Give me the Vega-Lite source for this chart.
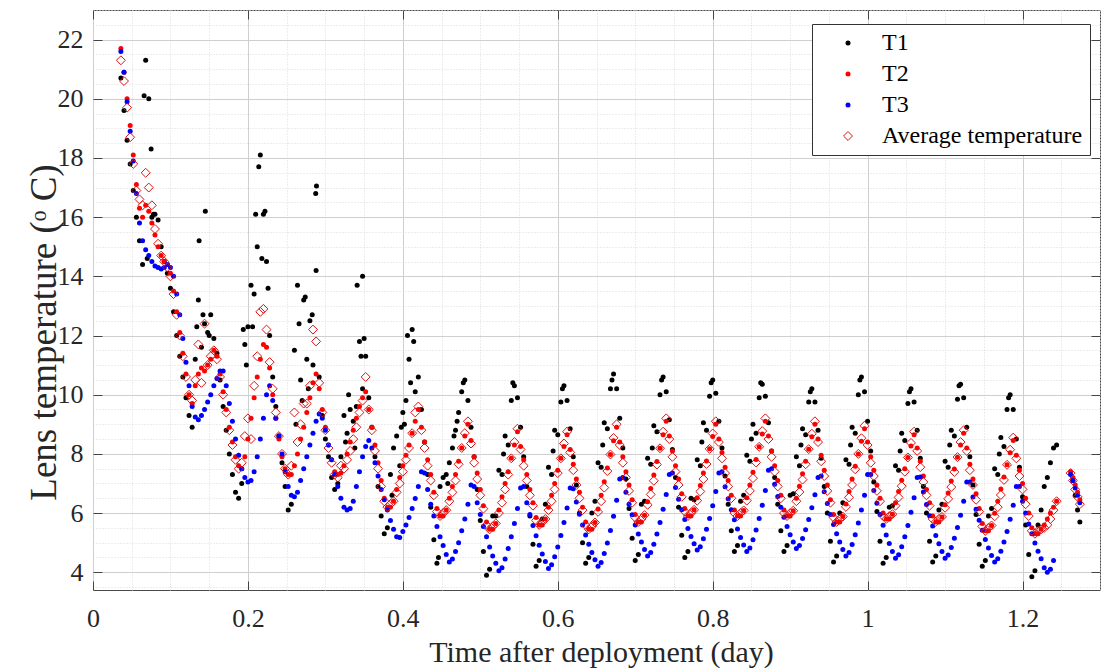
{
"$schema":"https://vega.github.io/schema/vega-lite/v6.json",
"width":1007,"height":580,
"autosize":{"type":"none"},
"padding":{"left":93,"top":10,"right":4,"bottom":78},
"background":"#ffffff",
"config":{
"view":{"stroke":"#4a4a4a","strokeWidth":1},
"font":"Liberation Serif",
"axis":{"labelFont":"Liberation Serif","titleFont":"Liberation Serif","labelColor":"#262626","titleColor":"#262626","titleFontWeight":"normal","labelFontSize":26,"titleFontSize":30},
"legend":{"labelFont":"Liberation Serif","labelFontSize":24,"labelColor":"#000000","padding":7,"strokeColor":"#333333","fillColor":"#ffffff","symbolOffset":17,"labelOffset":22,"rowPadding":7,"labelLimit":400,"symbolStrokeWidth":1}
},
"data":{"values":[
{"t":0.036,"T1":20.7,"T2":21.7,"T3":21.6,"Av":21.3},
{"t":0.04,"T1":19.6,"T2":20.9,"T3":20.9,"Av":20.6},
{"t":0.044,"T1":18.6,"T2":20.0,"T3":19.9,"Av":19.7},
{"t":0.048,"T1":17.8,"T2":19.1,"T3":18.9,"Av":18.7},
{"t":0.052,"T1":16.9,"T2":18.1,"T3":17.9,"Av":17.8},
{"t":0.056,"T1":16.0,"T2":17.1,"T3":16.8,"Av":16.9},
{"t":0.06,"T1":15.2,"T2":16.3,"T3":15.8,"Av":16.6},
{"t":0.064,"T1":14.4,"T2":16.0,"T3":15.2,"Av":16.4},
{"t":0.068,"T1":21.3,"T2":16.4,"T3":14.9,"Av":17.5},
{"t":0.072,"T1":20.0,"T2":16.2,"T3":14.7,"Av":17.0},
{"t":0.076,"T1":16.0,"T2":15.8,"T3":14.5,"Av":16.4},
{"t":0.08,"T1":16.1,"T2":15.4,"T3":14.35,"Av":15.6},
{"t":0.084,"T1":15.9,"T2":15.0,"T3":14.3,"Av":15.1},
{"t":0.088,"T1":15.0,"T2":14.7,"T3":14.25,"Av":14.7},
{"t":0.092,"T1":14.5,"T2":14.5,"T3":14.3,"Av":14.5},
{"t":0.096,"T1":14.1,"T2":14.4,"T3":14.4,"Av":14.3},
{"t":0.1,"T1":13.6,"T2":14.1,"T3":14.3,"Av":14.0},
{"t":0.104,"T1":12.8,"T2":13.5,"T3":14.0,"Av":13.4},
{"t":0.108,"T1":12.0,"T2":12.8,"T3":13.4,"Av":12.7},
{"t":0.112,"T1":11.3,"T2":12.1,"T3":12.7,"Av":12.0},
{"t":0.116,"T1":10.6,"T2":11.4,"T3":11.9,"Av":11.3},
{"t":0.12,"T1":9.9,"T2":10.7,"T3":11.1,"Av":10.6},
{"t":0.124,"T1":9.3,"T2":10.0,"T3":10.3,"Av":10.0},
{"t":0.128,"T1":8.9,"T2":9.7,"T3":9.6,"Av":9.8},
{"t":0.132,"T1":11.2,"T2":10.3,"T3":9.25,"Av":10.5},
{"t":0.136,"T1":13.2,"T2":10.7,"T3":9.15,"Av":11.7},
{"t":0.14,"T1":11.6,"T2":10.9,"T3":9.3,"Av":10.4},
{"t":0.144,"T1":12.4,"T2":10.8,"T3":9.5,"Av":12.4},
{"t":0.148,"T1":12.1,"T2":11.0,"T3":9.75,"Av":11.0},
{"t":0.152,"T1":12.7,"T2":11.2,"T3":10.0,"Av":11.3},
{"t":0.156,"T1":11.9,"T2":11.5,"T3":10.3,"Av":11.5},
{"t":0.16,"T1":11.4,"T2":11.3,"T3":10.55,"Av":11.2},
{"t":0.164,"T1":10.5,"T2":10.7,"T3":10.8,"Av":10.6},
{"t":0.168,"T1":9.6,"T2":10.1,"T3":10.8,"Av":10.0},
{"t":0.172,"T1":8.8,"T2":9.5,"T3":10.3,"Av":9.4},
{"t":0.176,"T1":8.0,"T2":8.9,"T3":9.7,"Av":8.8},
{"t":0.18,"T1":7.3,"T2":8.4,"T3":9.1,"Av":8.3},
{"t":0.184,"T1":6.7,"T2":7.9,"T3":8.5,"Av":7.8},
{"t":0.188,"T1":6.5,"T2":7.6,"T3":7.95,"Av":7.5},
{"t":0.192,"T1":7.0,"T2":7.5,"T3":7.5,"Av":7.7},
{"t":0.196,"T1":11.7,"T2":7.9,"T3":7.2,"Av":8.6},
{"t":0.2,"T1":12.3,"T2":8.5,"T3":7.05,"Av":9.2},
{"t":0.204,"T1":13.7,"T2":9.2,"T3":7.1,"Av":8.5},
{"t":0.208,"T1":13.4,"T2":9.9,"T3":7.4,"Av":10.3},
{"t":0.212,"T1":15.0,"T2":10.6,"T3":7.9,"Av":11.3},
{"t":0.216,"T1":18.1,"T2":11.2,"T3":8.5,"Av":12.8},
{"t":0.22,"T1":16.1,"T2":11.7,"T3":9.2,"Av":12.9},
{"t":0.224,"T1":14.5,"T2":11.6,"T3":10.0,"Av":12.2},
{"t":0.228,"T1":12.0,"T2":10.9,"T3":10.3,"Av":11.1},
{"t":0.232,"T1":10.6,"T2":10.0,"T3":9.8,"Av":10.2},
{"t":0.236,"T1":9.6,"T2":9.2,"T3":9.2,"Av":9.4},
{"t":0.24,"T1":8.6,"T2":8.5,"T3":8.6,"Av":8.6},
{"t":0.244,"T1":7.7,"T2":7.9,"T3":8.0,"Av":8.0},
{"t":0.248,"T1":6.9,"T2":7.5,"T3":7.4,"Av":7.5},
{"t":0.252,"T1":6.1,"T2":7.3,"T3":6.9,"Av":7.3},
{"t":0.256,"T1":6.3,"T2":7.3,"T3":6.6,"Av":7.6},
{"t":0.26,"T1":11.5,"T2":7.6,"T3":6.55,"Av":9.4},
{"t":0.264,"T1":13.7,"T2":8.0,"T3":6.7,"Av":8.4},
{"t":0.268,"T1":10.5,"T2":8.5,"T3":7.1,"Av":9.0},
{"t":0.272,"T1":13.2,"T2":8.9,"T3":7.5,"Av":9.7},
{"t":0.276,"T1":11.2,"T2":9.4,"T3":7.9,"Av":9.7},
{"t":0.28,"T1":12.5,"T2":9.9,"T3":8.3,"Av":10.3},
{"t":0.284,"T1":11.0,"T2":10.4,"T3":8.7,"Av":12.2},
{"t":0.288,"T1":14.2,"T2":10.7,"T3":9.1,"Av":11.8},
{"t":0.292,"T1":10.6,"T2":10.2,"T3":9.35,"Av":10.4},
{"t":0.296,"T1":9.3,"T2":9.5,"T3":9.2,"Av":9.4},
{"t":0.3,"T1":8.5,"T2":8.9,"T3":8.8,"Av":8.8},
{"t":0.304,"T1":7.9,"T2":8.3,"T3":8.3,"Av":8.2},
{"t":0.308,"T1":7.2,"T2":7.8,"T3":7.8,"Av":7.7},
{"t":0.312,"T1":6.8,"T2":7.4,"T3":7.3,"Av":7.3},
{"t":0.316,"T1":7.0,"T2":7.3,"T3":6.9,"Av":7.2},
{"t":0.32,"T1":7.9,"T2":7.35,"T3":6.5,"Av":7.6},
{"t":0.324,"T1":9.3,"T2":7.6,"T3":6.2,"Av":7.5},
{"t":0.328,"T1":8.7,"T2":8.0,"T3":6.1,"Av":7.8},
{"t":0.332,"T1":9.5,"T2":8.4,"T3":6.15,"Av":8.1},
{"t":0.336,"T1":9.1,"T2":8.8,"T3":6.4,"Av":8.5},
{"t":0.34,"T1":9.6,"T2":9.2,"T3":6.9,"Av":8.9},
{"t":0.344,"T1":11.8,"T2":9.6,"T3":7.4,"Av":9.4},
{"t":0.348,"T1":10.2,"T2":9.9,"T3":7.9,"Av":9.8},
{"t":0.352,"T1":11.3,"T2":10.1,"T3":8.25,"Av":10.6},
{"t":0.356,"T1":9.9,"T2":9.5,"T3":8.45,"Av":9.5},
{"t":0.36,"T1":8.9,"T2":8.9,"T3":8.2,"Av":8.8},
{"t":0.364,"T1":7.9,"T2":8.3,"T3":7.7,"Av":8.1},
{"t":0.368,"T1":6.9,"T2":7.7,"T3":7.25,"Av":7.5},
{"t":0.372,"T1":5.9,"T2":7.1,"T3":6.8,"Av":6.9},
{"t":0.376,"T1":5.3,"T2":6.5,"T3":6.45,"Av":6.4},
{"t":0.38,"T1":5.5,"T2":6.2,"T3":6.1,"Av":6.2},
{"t":0.384,"T1":7.3,"T2":6.2,"T3":5.75,"Av":6.3},
{"t":0.388,"T1":8.2,"T2":6.4,"T3":5.45,"Av":6.4},
{"t":0.392,"T1":8.6,"T2":6.8,"T3":5.2,"Av":6.7},
{"t":0.396,"T1":7.6,"T2":7.2,"T3":5.17,"Av":7.0},
{"t":0.4,"T1":9.4,"T2":7.6,"T3":5.38,"Av":7.4},
{"t":0.404,"T1":9.8,"T2":7.95,"T3":5.6,"Av":7.8},
{"t":0.408,"T1":11.2,"T2":8.3,"T3":5.85,"Av":8.2},
{"t":0.412,"T1":12.2,"T2":8.7,"T3":6.15,"Av":8.7},
{"t":0.416,"T1":10.1,"T2":9.1,"T3":6.49,"Av":9.4},
{"t":0.42,"T1":10.6,"T2":9.5,"T3":6.9,"Av":9.6},
{"t":0.424,"T1":9.5,"T2":8.9,"T3":7.4,"Av":8.8},
{"t":0.428,"T1":8.4,"T2":8.4,"T3":7.35,"Av":8.2},
{"t":0.432,"T1":7.3,"T2":7.8,"T3":6.8,"Av":7.6},
{"t":0.436,"T1":6.2,"T2":7.3,"T3":6.3,"Av":7.1},
{"t":0.44,"T1":5.1,"T2":6.7,"T3":5.9,"Av":6.6},
{"t":0.444,"T1":4.3,"T2":6.15,"T3":5.55,"Av":6.05},
{"t":0.448,"T1":6.9,"T2":5.9,"T3":5.2,"Av":5.9},
{"t":0.452,"T1":7.2,"T2":5.9,"T3":4.9,"Av":6.0},
{"t":0.456,"T1":7.3,"T2":6.1,"T3":4.6,"Av":6.1},
{"t":0.46,"T1":7.7,"T2":6.5,"T3":4.35,"Av":6.4},
{"t":0.464,"T1":8.2,"T2":6.9,"T3":4.45,"Av":6.7},
{"t":0.468,"T1":8.8,"T2":7.3,"T3":4.7,"Av":7.1},
{"t":0.472,"T1":9.4,"T2":7.75,"T3":5.0,"Av":7.65},
{"t":0.476,"T1":10.1,"T2":8.2,"T3":5.4,"Av":8.2},
{"t":0.48,"T1":10.5,"T2":8.6,"T3":5.8,"Av":8.7},
{"t":0.484,"T1":9.8,"T2":9.0,"T3":6.3,"Av":9.1},
{"t":0.488,"T1":8.9,"T2":8.45,"T3":6.95,"Av":8.35},
{"t":0.492,"T1":7.9,"T2":7.9,"T3":6.9,"Av":7.7},
{"t":0.496,"T1":6.8,"T2":7.35,"T3":6.35,"Av":7.15},
{"t":0.5,"T1":5.75,"T2":6.8,"T3":5.95,"Av":6.6},
{"t":0.504,"T1":4.7,"T2":6.25,"T3":5.55,"Av":6.15},
{"t":0.508,"T1":3.9,"T2":5.7,"T3":5.2,"Av":5.6},
{"t":0.512,"T1":4.1,"T2":5.45,"T3":4.85,"Av":5.45},
{"t":0.516,"T1":5.9,"T2":5.45,"T3":4.55,"Av":5.55},
{"t":0.52,"T1":5.9,"T2":5.65,"T3":4.3,"Av":5.65},
{"t":0.524,"T1":7.45,"T2":6.1,"T3":4.05,"Av":6.0},
{"t":0.528,"T1":7.3,"T2":6.55,"T3":4.15,"Av":6.35},
{"t":0.532,"T1":8.6,"T2":7.0,"T3":4.45,"Av":6.8},
{"t":0.536,"T1":8.3,"T2":7.4,"T3":4.8,"Av":7.3},
{"t":0.54,"T1":9.8,"T2":7.85,"T3":5.2,"Av":7.85},
{"t":0.544,"T1":10.3,"T2":8.3,"T3":5.65,"Av":8.4},
{"t":0.548,"T1":9.9,"T2":8.75,"T3":6.15,"Av":8.85},
{"t":0.552,"T1":8.9,"T2":8.25,"T3":6.85,"Av":8.15},
{"t":0.556,"T1":7.9,"T2":7.8,"T3":6.9,"Av":7.6},
{"t":0.56,"T1":6.9,"T2":7.3,"T3":6.35,"Av":7.1},
{"t":0.564,"T1":5.9,"T2":6.8,"T3":5.95,"Av":6.6},
{"t":0.568,"T1":4.95,"T2":6.35,"T3":5.58,"Av":6.25},
{"t":0.572,"T1":4.2,"T2":5.85,"T3":5.23,"Av":5.75},
{"t":0.576,"T1":4.4,"T2":5.6,"T3":4.91,"Av":5.6},
{"t":0.58,"T1":5.8,"T2":5.6,"T3":4.62,"Av":5.7},
{"t":0.584,"T1":6.3,"T2":5.8,"T3":4.36,"Av":5.8},
{"t":0.588,"T1":7.55,"T2":6.2,"T3":4.13,"Av":6.1},
{"t":0.592,"T1":7.3,"T2":6.6,"T3":4.25,"Av":6.4},
{"t":0.596,"T1":8.8,"T2":7.0,"T3":4.52,"Av":6.8},
{"t":0.6,"T1":8.65,"T2":7.45,"T3":4.85,"Av":7.35},
{"t":0.604,"T1":9.75,"T2":7.85,"T3":5.24,"Av":7.85},
{"t":0.608,"T1":10.3,"T2":8.25,"T3":5.68,"Av":8.35},
{"t":0.612,"T1":9.8,"T2":8.65,"T3":6.17,"Av":8.75},
{"t":0.616,"T1":8.85,"T2":8.15,"T3":6.85,"Av":8.05},
{"t":0.62,"T1":7.9,"T2":7.65,"T3":6.82,"Av":7.45},
{"t":0.624,"T1":6.95,"T2":7.15,"T3":6.37,"Av":6.95},
{"t":0.628,"T1":6.0,"T2":6.7,"T3":5.96,"Av":6.5},
{"t":0.632,"T1":5.0,"T2":6.2,"T3":5.6,"Av":6.1},
{"t":0.636,"T1":4.3,"T2":5.7,"T3":5.26,"Av":5.6},
{"t":0.64,"T1":4.5,"T2":5.45,"T3":4.95,"Av":5.45},
{"t":0.644,"T1":6.0,"T2":5.45,"T3":4.67,"Av":5.55},
{"t":0.648,"T1":6.4,"T2":5.68,"T3":4.42,"Av":5.68},
{"t":0.652,"T1":7.7,"T2":6.14,"T3":4.2,"Av":6.04},
{"t":0.656,"T1":7.55,"T2":6.6,"T3":4.33,"Av":6.4},
{"t":0.66,"T1":9.05,"T2":7.06,"T3":4.63,"Av":6.86},
{"t":0.664,"T1":8.85,"T2":7.52,"T3":4.99,"Av":7.42},
{"t":0.668,"T1":10.2,"T2":7.98,"T3":5.41,"Av":7.98},
{"t":0.672,"T1":10.7,"T2":8.44,"T3":5.89,"Av":8.54},
{"t":0.676,"T1":10.2,"T2":8.9,"T3":6.43,"Av":9.0},
{"t":0.68,"T1":9.2,"T2":8.4,"T3":7.15,"Av":8.3},
{"t":0.684,"T1":8.2,"T2":7.9,"T3":7.2,"Av":7.7},
{"t":0.688,"T1":7.15,"T2":7.4,"T3":6.7,"Av":7.2},
{"t":0.692,"T1":6.15,"T2":6.95,"T3":6.3,"Av":6.75},
{"t":0.696,"T1":5.15,"T2":6.45,"T3":5.94,"Av":6.35},
{"t":0.7,"T1":4.4,"T2":5.95,"T3":5.6,"Av":5.85},
{"t":0.704,"T1":4.6,"T2":5.7,"T3":5.29,"Av":5.7},
{"t":0.708,"T1":6.3,"T2":5.7,"T3":5.02,"Av":5.8},
{"t":0.712,"T1":6.4,"T2":5.93,"T3":4.77,"Av":5.93},
{"t":0.716,"T1":7.85,"T2":6.38,"T3":4.55,"Av":6.28},
{"t":0.72,"T1":7.65,"T2":6.83,"T3":4.67,"Av":6.63},
{"t":0.724,"T1":8.95,"T2":7.29,"T3":4.95,"Av":7.09},
{"t":0.728,"T1":8.75,"T2":7.74,"T3":5.29,"Av":7.64},
{"t":0.732,"T1":10.0,"T2":8.19,"T3":5.68,"Av":8.19},
{"t":0.736,"T1":10.6,"T2":8.65,"T3":6.13,"Av":8.75},
{"t":0.74,"T1":10.1,"T2":9.1,"T3":6.63,"Av":9.2},
{"t":0.744,"T1":9.15,"T2":8.6,"T3":7.3,"Av":8.5},
{"t":0.748,"T1":8.15,"T2":8.1,"T3":7.35,"Av":7.9},
{"t":0.752,"T1":7.2,"T2":7.6,"T3":6.86,"Av":7.4},
{"t":0.756,"T1":6.2,"T2":7.15,"T3":6.47,"Av":6.95},
{"t":0.76,"T1":5.25,"T2":6.65,"T3":6.11,"Av":6.55},
{"t":0.764,"T1":4.5,"T2":6.15,"T3":5.78,"Av":6.05},
{"t":0.768,"T1":4.7,"T2":5.9,"T3":5.48,"Av":5.9},
{"t":0.772,"T1":6.5,"T2":5.9,"T3":5.21,"Av":6.0},
{"t":0.776,"T1":6.45,"T2":6.11,"T3":4.96,"Av":6.11},
{"t":0.78,"T1":7.8,"T2":6.52,"T3":4.75,"Av":6.42},
{"t":0.784,"T1":7.6,"T2":6.93,"T3":4.86,"Av":6.73},
{"t":0.788,"T1":9.05,"T2":7.35,"T3":5.13,"Av":7.15},
{"t":0.792,"T1":8.8,"T2":7.76,"T3":5.45,"Av":7.66},
{"t":0.796,"T1":9.95,"T2":8.17,"T3":5.82,"Av":8.17},
{"t":0.8,"T1":10.5,"T2":8.59,"T3":6.25,"Av":8.69},
{"t":0.804,"T1":10.05,"T2":9.0,"T3":6.73,"Av":9.1},
{"t":0.808,"T1":9.1,"T2":8.5,"T3":7.35,"Av":8.4},
{"t":0.812,"T1":8.2,"T2":8.05,"T3":7.4,"Av":7.85},
{"t":0.816,"T1":7.25,"T2":7.55,"T3":6.89,"Av":7.35},
{"t":0.82,"T1":6.3,"T2":7.1,"T3":6.48,"Av":6.9},
{"t":0.824,"T1":5.4,"T2":6.6,"T3":6.11,"Av":6.5},
{"t":0.828,"T1":4.7,"T2":6.1,"T3":5.77,"Av":6.0},
{"t":0.832,"T1":4.9,"T2":5.9,"T3":5.46,"Av":5.9},
{"t":0.836,"T1":6.4,"T2":5.9,"T3":5.17,"Av":6.0},
{"t":0.84,"T1":6.6,"T2":6.09,"T3":4.92,"Av":6.09},
{"t":0.844,"T1":7.95,"T2":6.52,"T3":4.7,"Av":6.42},
{"t":0.848,"T1":7.75,"T2":6.95,"T3":4.82,"Av":6.75},
{"t":0.852,"T1":9.0,"T2":7.38,"T3":5.1,"Av":7.18},
{"t":0.856,"T1":8.7,"T2":7.81,"T3":5.43,"Av":7.71},
{"t":0.86,"T1":9.9,"T2":8.24,"T3":5.82,"Av":8.24},
{"t":0.864,"T1":10.35,"T2":8.67,"T3":6.26,"Av":8.77},
{"t":0.868,"T1":9.95,"T2":9.1,"T3":6.76,"Av":9.2},
{"t":0.872,"T1":9.05,"T2":8.6,"T3":7.45,"Av":8.5},
{"t":0.876,"T1":8.1,"T2":8.1,"T3":7.5,"Av":7.9},
{"t":0.88,"T1":7.2,"T2":7.6,"T3":6.97,"Av":7.4},
{"t":0.884,"T1":6.3,"T2":7.1,"T3":6.56,"Av":6.9},
{"t":0.888,"T1":5.4,"T2":6.6,"T3":6.2,"Av":6.5},
{"t":0.892,"T1":4.7,"T2":6.1,"T3":5.86,"Av":6.0},
{"t":0.896,"T1":4.9,"T2":5.9,"T3":5.55,"Av":5.9},
{"t":0.9,"T1":6.6,"T2":5.9,"T3":5.27,"Av":6.0},
{"t":0.904,"T1":6.65,"T2":6.08,"T3":5.02,"Av":6.08},
{"t":0.908,"T1":7.9,"T2":6.5,"T3":4.8,"Av":6.4},
{"t":0.912,"T1":7.6,"T2":6.91,"T3":4.9,"Av":6.71},
{"t":0.916,"T1":8.85,"T2":7.33,"T3":5.14,"Av":7.13},
{"t":0.92,"T1":8.65,"T2":7.75,"T3":5.44,"Av":7.65},
{"t":0.924,"T1":9.75,"T2":8.16,"T3":5.78,"Av":8.16},
{"t":0.928,"T1":10.2,"T2":8.58,"T3":6.18,"Av":8.68},
{"t":0.932,"T1":9.75,"T2":9.0,"T3":6.62,"Av":9.1},
{"t":0.936,"T1":8.8,"T2":8.5,"T3":7.2,"Av":8.4},
{"t":0.94,"T1":7.85,"T2":7.95,"T3":7.25,"Av":7.75},
{"t":0.944,"T1":6.9,"T2":7.45,"T3":6.72,"Av":7.25},
{"t":0.948,"T1":6.0,"T2":6.95,"T3":6.32,"Av":6.75},
{"t":0.952,"T1":5.05,"T2":6.45,"T3":5.95,"Av":6.35},
{"t":0.956,"T1":4.35,"T2":5.95,"T3":5.61,"Av":5.85},
{"t":0.96,"T1":4.55,"T2":5.7,"T3":5.3,"Av":5.7},
{"t":0.964,"T1":6.0,"T2":5.7,"T3":5.02,"Av":5.8},
{"t":0.968,"T1":6.35,"T2":5.88,"T3":4.77,"Av":5.88},
{"t":0.972,"T1":7.8,"T2":6.31,"T3":4.55,"Av":6.21},
{"t":0.976,"T1":7.65,"T2":6.73,"T3":4.67,"Av":6.53},
{"t":0.98,"T1":8.9,"T2":7.15,"T3":4.94,"Av":6.95},
{"t":0.984,"T1":8.7,"T2":7.58,"T3":5.27,"Av":7.48},
{"t":0.988,"T1":10.0,"T2":8.0,"T3":5.66,"Av":8.0},
{"t":0.992,"T1":10.6,"T2":8.43,"T3":6.1,"Av":8.53},
{"t":0.996,"T1":10.1,"T2":8.85,"T3":6.6,"Av":8.95},
{"t":1.0,"T1":9.1,"T2":8.4,"T3":7.3,"Av":8.3},
{"t":1.004,"T1":8.1,"T2":7.9,"T3":7.3,"Av":7.7},
{"t":1.008,"T1":7.05,"T2":7.45,"T3":6.76,"Av":7.25},
{"t":1.012,"T1":6.05,"T2":6.95,"T3":6.33,"Av":6.75},
{"t":1.016,"T1":5.05,"T2":6.5,"T3":5.95,"Av":6.4},
{"t":1.02,"T1":4.3,"T2":6.0,"T3":5.59,"Av":5.9},
{"t":1.024,"T1":4.5,"T2":5.8,"T3":5.26,"Av":5.8},
{"t":1.028,"T1":6.2,"T2":5.8,"T3":4.97,"Av":5.9},
{"t":1.032,"T1":6.25,"T2":5.96,"T3":4.7,"Av":5.96},
{"t":1.036,"T1":7.6,"T2":6.35,"T3":4.47,"Av":6.25},
{"t":1.04,"T1":7.45,"T2":6.73,"T3":4.59,"Av":6.53},
{"t":1.044,"T1":8.7,"T2":7.11,"T3":4.86,"Av":6.91},
{"t":1.048,"T1":8.45,"T2":7.5,"T3":5.2,"Av":7.4},
{"t":1.052,"T1":9.7,"T2":7.88,"T3":5.58,"Av":7.88},
{"t":1.056,"T1":10.2,"T2":8.27,"T3":6.03,"Av":8.37},
{"t":1.06,"T1":9.75,"T2":8.65,"T3":6.52,"Av":8.75},
{"t":1.064,"T1":8.8,"T2":8.2,"T3":7.2,"Av":8.1},
{"t":1.068,"T1":7.85,"T2":7.75,"T3":7.22,"Av":7.55},
{"t":1.072,"T1":6.9,"T2":7.25,"T3":6.71,"Av":7.05},
{"t":1.076,"T1":6.0,"T2":6.8,"T3":6.29,"Av":6.6},
{"t":1.08,"T1":5.05,"T2":6.35,"T3":5.91,"Av":6.25},
{"t":1.084,"T1":4.35,"T2":5.9,"T3":5.56,"Av":5.8},
{"t":1.088,"T1":4.55,"T2":5.7,"T3":5.24,"Av":5.7},
{"t":1.092,"T1":6.1,"T2":5.7,"T3":4.96,"Av":5.8},
{"t":1.096,"T1":6.3,"T2":5.87,"T3":4.7,"Av":5.87},
{"t":1.1,"T1":7.75,"T2":6.28,"T3":4.47,"Av":6.18},
{"t":1.104,"T1":7.55,"T2":6.68,"T3":4.58,"Av":6.48},
{"t":1.108,"T1":8.8,"T2":7.08,"T3":4.84,"Av":6.88},
{"t":1.112,"T1":8.6,"T2":7.49,"T3":5.15,"Av":7.39},
{"t":1.116,"T1":9.85,"T2":7.89,"T3":5.51,"Av":7.89},
{"t":1.12,"T1":10.35,"T2":8.3,"T3":5.93,"Av":8.4},
{"t":1.124,"T1":9.9,"T2":8.7,"T3":6.4,"Av":8.8},
{"t":1.128,"T1":8.9,"T2":8.2,"T3":7.05,"Av":8.1},
{"t":1.132,"T1":7.9,"T2":7.65,"T3":7.05,"Av":7.45},
{"t":1.136,"T1":6.95,"T2":7.15,"T3":6.54,"Av":6.95},
{"t":1.14,"T1":5.95,"T2":6.65,"T3":6.13,"Av":6.45},
{"t":1.144,"T1":4.95,"T2":6.15,"T3":5.76,"Av":6.05},
{"t":1.148,"T1":4.2,"T2":5.65,"T3":5.42,"Av":5.55},
{"t":1.152,"T1":4.4,"T2":5.4,"T3":5.11,"Av":5.4},
{"t":1.156,"T1":5.9,"T2":5.4,"T3":4.82,"Av":5.5},
{"t":1.16,"T1":6.15,"T2":5.58,"T3":4.57,"Av":5.58},
{"t":1.164,"T1":7.5,"T2":5.99,"T3":4.35,"Av":5.89},
{"t":1.168,"T1":7.3,"T2":6.4,"T3":4.46,"Av":6.2},
{"t":1.172,"T1":8.55,"T2":6.81,"T3":4.71,"Av":6.61},
{"t":1.176,"T1":8.25,"T2":7.22,"T3":5.02,"Av":7.12},
{"t":1.18,"T1":9.5,"T2":7.63,"T3":5.38,"Av":7.63},
{"t":1.184,"T1":10.0,"T2":8.04,"T3":5.79,"Av":8.14},
{"t":1.188,"T1":9.5,"T2":8.45,"T3":6.26,"Av":8.55},
{"t":1.192,"T1":8.5,"T2":7.95,"T3":6.9,"Av":7.85},
{"t":1.196,"T1":7.55,"T2":7.45,"T3":6.9,"Av":7.25},
{"t":1.2,"T1":6.55,"T2":7.0,"T3":6.4,"Av":6.8},
{"t":1.204,"T1":5.6,"T2":6.5,"T3":6.0,"Av":6.3},
{"t":1.208,"T1":4.6,"T2":6.0,"T3":5.63,"Av":5.9},
{"t":1.212,"T1":3.85,"T2":5.5,"T3":5.3,"Av":5.4},
{"t":1.216,"T1":4.05,"T2":5.3,"T3":4.99,"Av":5.3},
{"t":1.22,"T1":5.6,"T2":5.3,"T3":4.71,"Av":5.4},
{"t":1.224,"T1":6.1,"T2":5.45,"T3":4.46,"Av":5.45},
{"t":1.228,"T1":6.9,"T2":5.6,"T3":4.15,"Av":5.5},
{"t":1.232,"T1":7.2,"T2":5.8,"T3":4.0,"Av":5.6},
{"t":1.236,"T1":7.7,"T2":6.0,"T3":4.1,"Av":5.8},
{"t":1.24,"T1":8.2,"T2":6.2,"T3":4.4,"Av":6.1},
{"t":1.244,"T1":8.3,"T2":6.4,"Av":6.4},
{"t":1.262,"T2":7.4,"T3":7.3,"Av":7.35},
{"t":1.265,"T1":7.1,"T2":7.2,"T3":7.1,"Av":7.1},
{"t":1.268,"T1":6.6,"T2":6.95,"T3":6.85,"Av":6.8},
{"t":1.271,"T1":6.1,"T2":6.7,"T3":6.6,"Av":6.55},
{"t":1.274,"T1":5.7,"T2":6.45,"T3":6.35,"Av":6.3},
{"t":0.066,"T1":20.1},{"t":0.075,"T1":18.3},{"t":0.07,"T1":14.6},{"t":0.078,"T1":16.1},
{"t":0.134,"T1":12.3},{"t":0.137,"T1":15.2},{"t":0.142,"T1":12.7},{"t":0.145,"T1":16.2},{"t":0.15,"T1":12.0},
{"t":0.194,"T1":12.2},{"t":0.198,"T1":11.0},{"t":0.206,"T1":12.3},{"t":0.21,"T1":16.1},{"t":0.214,"T1":17.7},{"t":0.218,"T1":14.6},{"t":0.222,"T1":16.2},{"t":0.226,"T1":13.6},
{"t":0.262,"T1":9.0},{"t":0.266,"T1":12.4},{"t":0.27,"T1":9.8},{"t":0.274,"T1":13.3},{"t":0.278,"T1":10.2},{"t":0.283,"T1":12.7},{"t":0.2875,"T1":16.8},{"t":0.2885,"T1":17.05},
{"t":0.326,"T1":8.4},{"t":0.33,"T1":10.0},{"t":0.338,"T1":8.2},{"t":0.341,"T1":13.7},{"t":0.346,"T1":11.3},{"t":0.348,"T1":14.0},{"t":0.35,"T1":11.9},
{"t":0.386,"T1":6.6},{"t":0.398,"T1":8.9},{"t":0.402,"T1":9.0},{"t":0.406,"T1":12.0},{"t":0.41,"T1":10.4},{"t":0.414,"T1":11.8},
{"t":0.446,"T1":4.5},{"t":0.458,"T1":7.0},{"t":0.466,"T1":8.6},{"t":0.47,"T1":9.1},{"t":0.478,"T1":10.4},
{"t":0.53,"T1":8.0},{"t":0.542,"T1":10.4},{"t":0.594,"T1":8.1},{"t":0.606,"T1":10.2},{"t":0.658,"T1":8.3},{"t":0.67,"T1":10.5},
{"t":0.722,"T1":8.2},{"t":0.734,"T1":10.5},{"t":0.786,"T1":8.4},{"t":0.798,"T1":10.4},{"t":0.85,"T1":8.5},{"t":0.862,"T1":10.4},
{"t":0.914,"T1":8.3},{"t":0.926,"T1":10.1},{"t":0.978,"T1":8.3},{"t":0.99,"T1":10.5},{"t":1.042,"T1":8.1},{"t":1.054,"T1":10.1},
{"t":1.106,"T1":8.3},{"t":1.118,"T1":10.3},{"t":1.17,"T1":8.0},{"t":1.182,"T1":9.9}
]},
"layer":[
{
"transform":[{"fold":["T1","T2","T3"],"as":["key","value"]}],
"mark":{"type":"point","filled":true,"opacity":1,"strokeWidth":1},
"encoding":{
"x":{"field":"t","type":"quantitative","scale":{"domain":[0,1.3],"nice":false,"zero":false},
"axis":{"orient":"bottom","values":[0,0.05,0.1,0.15,0.2,0.25,0.3,0.35,0.4,0.45,0.5,0.55,0.6,0.65,0.7,0.75,0.8,0.85,0.9,0.95,1,1.05,1.1,1.15,1.2,1.25,1.3],
"labelExpr":"abs(datum.value*5-round(datum.value*5))<0.000001 ? format(datum.value,'~g') : ''",
"domain":false,"grid":true,
"gridColor":{"condition":{"test":"abs(datum.value*5-round(datum.value*5))<0.000001","value":"#cfcfcf"},"value":"#dadada"},
"gridDash":{"condition":{"test":"abs(datum.value*5-round(datum.value*5))<0.000001","value":[]},"value":[1,2]},
"tickSize":-9,"tickColor":"#444444",
"tickOpacity":{"condition":{"test":"abs(datum.value*5-round(datum.value*5))<0.000001","value":1},"value":0},
"labelPadding":24,"labelFlush":false,"labelOverlap":false,
"title":"Time after deployment (day)","titleBaseline":"alphabetic","titleY":71,"titleX":508}},
"y":{"field":"value","type":"quantitative","scale":{"domain":[3.4,23],"nice":false,"zero":false},
"axis":{"orient":"left","values":[3.5,4,4.5,5,5.5,6,6.5,7,7.5,8,8.5,9,9.5,10,10.5,11,11.5,12,12.5,13,13.5,14,14.5,15,15.5,16,16.5,17,17.5,18,18.5,19,19.5,20,20.5,21,21.5,22,22.5,23],
"labelExpr":"abs(datum.value/2-round(datum.value/2))<0.000001 ? format(datum.value,'~g') : ''",
"domain":false,"grid":true,
"gridColor":{"condition":{"test":"abs(datum.value/2-round(datum.value/2))<0.000001","value":"#cfcfcf"},"value":"#dadada"},
"gridDash":{"condition":{"test":"abs(datum.value/2-round(datum.value/2))<0.000001","value":[]},"value":[1,2]},
"tickSize":-9,"tickColor":"#444444",
"tickOpacity":{"condition":{"test":"abs(datum.value/2-round(datum.value/2))<0.000001","value":1},"value":0},
"labelPadding":19,"labelOverlap":false,"labelFlush":false,
"title":"Lens temperature (ᵒ C)","titleFontSize":37,"titleBaseline":"alphabetic","titleX":-38,"titleY":322,"titleAngle":-90}},
"fill":{"field":"key","type":"nominal","scale":{"domain":["T1","T2","T3","Av"],"range":["#000000","#ff0000","#0000ff","transparent"]},
"legend":{"title":null,"orient":"none","legendX":719,"legendY":14,"labelFont":"Liberation Serif","labelExpr":"datum.label == 'Av' ? 'Average temperature' : datum.label"}},
"stroke":{"field":"key","type":"nominal","scale":{"domain":["T1","T2","T3","Av"],"range":["transparent","transparent","transparent","#dd1111"]},
"legend":{"title":null,"orient":"none","legendX":719,"legendY":14,"labelFont":"Liberation Serif","labelExpr":"datum.label == 'Av' ? 'Average temperature' : datum.label"}},
"shape":{"field":"key","type":"nominal","scale":{"domain":["T1","T2","T3","Av"],"range":["circle","circle","circle","diamond"]},
"legend":{"title":null,"orient":"none","legendX":719,"legendY":14,"labelFont":"Liberation Serif","labelExpr":"datum.label == 'Av' ? 'Average temperature' : datum.label"}},
"size":{"field":"key","type":"nominal","scale":{"type":"ordinal","domain":["T1","T2","T3","Av"],"range":[25,25,25,80]},
"legend":{"title":null,"orient":"none","legendX":719,"legendY":14,"labelFont":"Liberation Serif","labelExpr":"datum.label == 'Av' ? 'Average temperature' : datum.label"}},
"order":{"field":"key","type":"nominal","sort":"ascending"}
}
},
{
"transform":[{"fold":["Av"],"as":["key","value"]}],
"mark":{"type":"point","filled":true,"opacity":1,"strokeWidth":1},
"encoding":{
"x":{"field":"t","type":"quantitative","scale":{"domain":[0,1.3],"nice":false,"zero":false},
"axis":{"orient":"top","values":[0,0.2,0.4,0.6,0.8,1,1.2],"labels":false,"grid":false,"domain":false,"ticks":true,"tickSize":-9,"tickColor":"#444444","title":null}},
"y":{"field":"value","type":"quantitative","scale":{"domain":[3.4,23],"nice":false,"zero":false},
"axis":{"orient":"right","values":[4,6,8,10,12,14,16,18,20,22],"labels":false,"grid":false,"domain":false,"ticks":true,"tickSize":-9,"tickColor":"#444444","title":null}},
"fill":{"field":"key","type":"nominal","scale":{"domain":["T1","T2","T3","Av"],"range":["#000000","#ff0000","#0000ff","transparent"]},
"legend":{"title":null,"orient":"none","legendX":719,"legendY":14,"labelFont":"Liberation Serif","labelExpr":"datum.label == 'Av' ? 'Average temperature' : datum.label"}},
"stroke":{"field":"key","type":"nominal","scale":{"domain":["T1","T2","T3","Av"],"range":["transparent","transparent","transparent","#dd1111"]},
"legend":{"title":null,"orient":"none","legendX":719,"legendY":14,"labelFont":"Liberation Serif","labelExpr":"datum.label == 'Av' ? 'Average temperature' : datum.label"}},
"shape":{"field":"key","type":"nominal","scale":{"domain":["T1","T2","T3","Av"],"range":["circle","circle","circle","diamond"]},
"legend":{"title":null,"orient":"none","legendX":719,"legendY":14,"labelFont":"Liberation Serif","labelExpr":"datum.label == 'Av' ? 'Average temperature' : datum.label"}},
"size":{"field":"key","type":"nominal","scale":{"type":"ordinal","domain":["T1","T2","T3","Av"],"range":[25,25,25,80]},
"legend":{"title":null,"orient":"none","legendX":719,"legendY":14,"labelFont":"Liberation Serif","labelExpr":"datum.label == 'Av' ? 'Average temperature' : datum.label"}}
}
}
],
"resolve":{"axis":{"x":"independent","y":"independent"}}
}
